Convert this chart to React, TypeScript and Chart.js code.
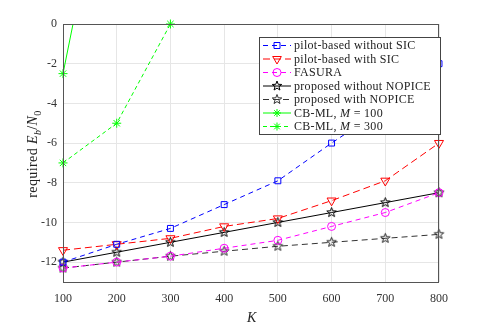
import React, { useEffect, useRef } from "react";
import { Chart, registerables } from "chart.js";

Chart.register(...registerables);

const K = [100, 200, 300, 400, 500, 600, 700, 800];
const pilotNoSIC = [-12.0, -11.1, -10.3, -9.1, -7.9, -6.0, -4.2, -2.0];
const pilotSIC = [-11.4, -11.1, -10.8, -10.2, -9.8, -8.9, -7.9, -6.0];
const fasura = [-12.3, -12.0, -11.7, -11.3, -10.9, -10.2, -9.5, -8.5];
const propNoNOPICE = [-12.0, -11.5, -11.0, -10.5, -10.0, -9.5, -9.0, -8.5];
const propNOPICE = [-12.3, -12.0, -11.7, -11.45, -11.2, -11.0, -10.8, -10.6];
const cbK100 = [100, 200];
const cbM100 = [-2.5, 10.9];
const cbK300 = [100, 200, 300];
const cbM300 = [-7.0, -5.0, 0.0];
const yTicks = [0, -2, -4, -6, -8, -10, -12];
const xTicks = [100, 200, 300, 400, 500, 600, 700, 800];

const SERIF = "'Liberation Serif', 'DejaVu Serif', serif";

function makePentagram(color: string, r: number): HTMLCanvasElement {
  const s = Math.ceil(r * 2 + 3);
  const c = document.createElement("canvas");
  c.width = s;
  c.height = s;
  const ctx = c.getContext("2d")!;
  drawPentagram(ctx, s / 2, s / 2, r, color);
  return c;
}

function drawPentagram(ctx: CanvasRenderingContext2D, cx: number, cy: number, r: number, color: string) {
  const ri = r * 0.42;
  ctx.save();
  ctx.beginPath();
  for (let i = 0; i < 10; i++) {
    const rr = i % 2 === 0 ? r : ri;
    const a = -Math.PI / 2 + (i * Math.PI) / 5;
    const x = cx + rr * Math.cos(a);
    const y = cy + rr * Math.sin(a);
    if (i === 0) ctx.moveTo(x, y);
    else ctx.lineTo(x, y);
  }
  ctx.closePath();
  ctx.strokeStyle = color;
  ctx.lineWidth = 1;
  ctx.stroke();
  ctx.restore();
}

type Entry = {
  label: { t: string; i?: boolean }[];
  color: string;
  dash: number[];
  marker: string;
};

const legendEntries: Entry[] = [
  { label: [{ t: "pilot-based without SIC" }], color: "#0000ff", dash: [5, 4], marker: "square" },
  { label: [{ t: "pilot-based with SIC" }], color: "#ff0000", dash: [7, 4], marker: "tri" },
  { label: [{ t: "FASURA" }], color: "#ff00ff", dash: [5, 4], marker: "circle" },
  { label: [{ t: "proposed without NOPICE" }], color: "#000000", dash: [], marker: "star" },
  { label: [{ t: "proposed with NOPICE" }], color: "#333333", dash: [6, 4], marker: "star" },
  { label: [{ t: "CB-ML, " }, { t: "M", i: true }, { t: " = 100" }], color: "#00ff00", dash: [], marker: "ast" },
  { label: [{ t: "CB-ML, " }, { t: "M", i: true }, { t: " = 300" }], color: "#00ff00", dash: [4, 3], marker: "ast" },
];

function drawMarker(ctx: CanvasRenderingContext2D, m: string, x: number, y: number, color: string) {
  ctx.save();
  ctx.strokeStyle = color;
  ctx.lineWidth = 1;
  ctx.setLineDash([]);
  ctx.beginPath();
  if (m === "square") {
    ctx.rect(x - 3, y - 3, 6, 6);
    ctx.stroke();
  } else if (m === "tri") {
    const r = 5;
    ctx.moveTo(x, y + r);
    ctx.lineTo(x - r * 0.866, y - r / 2);
    ctx.lineTo(x + r * 0.866, y - r / 2);
    ctx.closePath();
    ctx.stroke();
  } else if (m === "circle") {
    ctx.arc(x, y, 4, 0, Math.PI * 2);
    ctx.stroke();
  } else if (m === "star") {
    ctx.restore();
    drawPentagram(ctx, x, y, 5, color);
    return;
  } else if (m === "ast") {
    const r = 4;
    ctx.moveTo(x - r, y);
    ctx.lineTo(x + r, y);
    ctx.moveTo(x, y - r);
    ctx.lineTo(x, y + r);
    const d = r * 0.707;
    ctx.moveTo(x - d, y - d);
    ctx.lineTo(x + d, y + d);
    ctx.moveTo(x - d, y + d);
    ctx.lineTo(x + d, y - d);
    ctx.stroke();
  }
  ctx.restore();
}

type Run = { t: string; i?: boolean; sub?: boolean };

function drawRuns(ctx: CanvasRenderingContext2D, runs: Run[], x: number, y: number, size: number) {
  let cx = x;
  for (const r of runs) {
    const fs = r.sub ? size * 0.72 : size;
    ctx.font = `${r.i ? "italic " : ""}${fs}px ${SERIF}`;
    ctx.fillText(r.t, cx, r.sub ? y + size * 0.28 : y);
    cx += ctx.measureText(r.t).width;
  }
  return cx - x;
}

function measureRuns(ctx: CanvasRenderingContext2D, runs: Run[], size: number) {
  let w = 0;
  for (const r of runs) {
    const fs = r.sub ? size * 0.72 : size;
    ctx.font = `${r.i ? "italic " : ""}${fs}px ${SERIF}`;
    w += ctx.measureText(r.t).width;
  }
  return w;
}

const decorPlugin = {
  id: "decor",
  afterDraw(chart: any) {
    const ctx: any = chart.ctx;
    const a = chart.chartArea;
    ctx.save();
    // frame
    ctx.strokeStyle = "#555555";
    ctx.lineWidth = 1;
    ctx.setLineDash([]);
    ctx.strokeRect(a.left + 0.5, a.top + 0.5, a.right - a.left - 1, a.bottom - a.top);

    // y title
    ctx.fillStyle = "#222222";
    ctx.textBaseline = "alphabetic";
    ctx.letterSpacing = "0.4px";
    const yRuns: Run[] = [
      { t: "required " },
      { t: "E", i: true },
      { t: "b", i: true, sub: true },
      { t: "/" },
      { t: "N", i: true },
      { t: "0", sub: true },
    ];
    const ys = 14;
    const w = measureRuns(ctx, yRuns, ys);
    ctx.save();
    ctx.translate(37, 154);
    ctx.rotate(-Math.PI / 2);
    drawRuns(ctx, yRuns, -w / 2, 0, ys);
    ctx.restore();
    ctx.letterSpacing = "0px";

    // x title
    drawRuns(ctx, [{ t: "K", i: true }], (a.left + a.right) / 2 - 4, 322, 14);

    // legend
    const lx = 259, ly = 37, lw = 181, lh = 97;
    ctx.fillStyle = "#ffffff";
    ctx.fillRect(lx, ly, lw, lh);
    ctx.strokeStyle = "#444444";
    ctx.strokeRect(lx + 0.5, ly + 0.5, lw, lh);
    ctx.letterSpacing = "0.3px";
    legendEntries.forEach((e, i) => {
      const y = 45.5 + i * 13.5;
      ctx.save();
      ctx.strokeStyle = e.color;
      ctx.lineWidth = 1;
      ctx.setLineDash(e.dash);
      ctx.beginPath();
      ctx.moveTo(263, y);
      ctx.lineTo(291, y);
      ctx.stroke();
      ctx.restore();
      drawMarker(ctx, e.marker, 277, y, e.color);
      ctx.fillStyle = "#222222";
      ctx.textBaseline = "middle";
      drawRuns(ctx, e.label, 294, y + 0.5, 12);
      ctx.textBaseline = "alphabetic";
    });
    ctx.letterSpacing = "0px";
    ctx.restore();
  },
};

function pts(xs: number[], ys: number[]) {
  return xs.map((x, i) => ({ x, y: ys[i] }));
}

export default function App() {
  const ref = useRef<HTMLCanvasElement | null>(null);
  useEffect(() => {
    if (!ref.current) return;
    const starBlack = makePentagram("#000000", 5);
    const starGray = makePentagram("#222222", 5);
    const clipAll = { left: 8, right: 8, top: 8, bottom: 8 };
    const base = { borderWidth: 1, pointBorderWidth: 1, pointBackgroundColor: "rgba(0,0,0,0)", fill: false, tension: 0, clip: clipAll };
    const chart = new Chart(ref.current, {
      type: "line",
      data: {
        datasets: [
          { ...base, label: "pilot-based without SIC", data: pts(K, pilotNoSIC), borderColor: "#0000ff", pointBorderColor: "#0000ff", borderDash: [5, 4], pointStyle: "rect", pointRadius: 4.2 },
          { ...base, label: "pilot-based with SIC", data: pts(K, pilotSIC), borderColor: "#ff0000", pointBorderColor: "#ff0000", borderDash: [7, 4], pointStyle: "triangle", pointRotation: 180, pointRadius: 5.2 },
          { ...base, label: "FASURA", data: pts(K, fasura), borderColor: "#ff00ff", pointBorderColor: "#ff00ff", borderDash: [5, 4], pointStyle: "circle", pointRadius: 4 },
          { ...base, label: "proposed without NOPICE", data: pts(K, propNoNOPICE), borderColor: "#000000", pointStyle: starBlack as any, pointRadius: 5 },
          { ...base, label: "proposed with NOPICE", data: pts(K, propNOPICE), borderColor: "#333333", borderDash: [6, 4], pointStyle: starGray as any, pointRadius: 5 },
          { ...base, label: "CB-ML, M = 100", data: pts(cbK100, cbM100), borderColor: "#00ff00", pointBorderColor: "#00ff00", pointStyle: "star", pointRadius: 4.5, clip: { left: 8, right: 8, top: 0, bottom: 8 } },
          { ...base, label: "CB-ML, M = 300", data: pts(cbK300, cbM300), borderColor: "#00ff00", pointBorderColor: "#00ff00", borderDash: [4, 3], pointStyle: "star", pointRadius: 4.5 },
        ] as any,
      },
      options: {
        responsive: false,
        animation: false,
        events: [],
        layout: { padding: { top: 24, right: 46, left: 0, bottom: 0 } },
        plugins: { legend: { display: false }, tooltip: { enabled: false } },
        scales: {
          x: {
            type: "linear",
            min: 100,
            max: 800,
            afterBuildTicks: (s: any) => { s.ticks = xTicks.map((v) => ({ value: v })); },
            afterFit: (s: any) => { s.height = 47; },
            grid: { color: "#e6e6e6", drawTicks: false },
            border: { display: false },
            ticks: { padding: 10, color: "#333333", font: { family: SERIF, size: 12 }, callback: (v: any) => String(v) },
          },
          y: {
            type: "linear",
            min: -13,
            max: 0,
            afterBuildTicks: (s: any) => { s.ticks = yTicks.map((v) => ({ value: v })); },
            afterFit: (s: any) => { s.width = 63; },
            grid: { color: "#e6e6e6", drawTicks: false },
            border: { display: false },
            ticks: { padding: 6, color: "#333333", font: { family: SERIF, size: 12 }, callback: (v: any) => String(v) },
          },
        },
      },
      plugins: [decorPlugin],
    } as any);
    return () => chart.destroy();
  }, []);
  return (
    <div style={{ position: "absolute", left: 0, top: 0, width: 485, height: 329, background: "#fff" }}>
      <canvas ref={ref} width={485} height={329} />
    </div>
  );
}
